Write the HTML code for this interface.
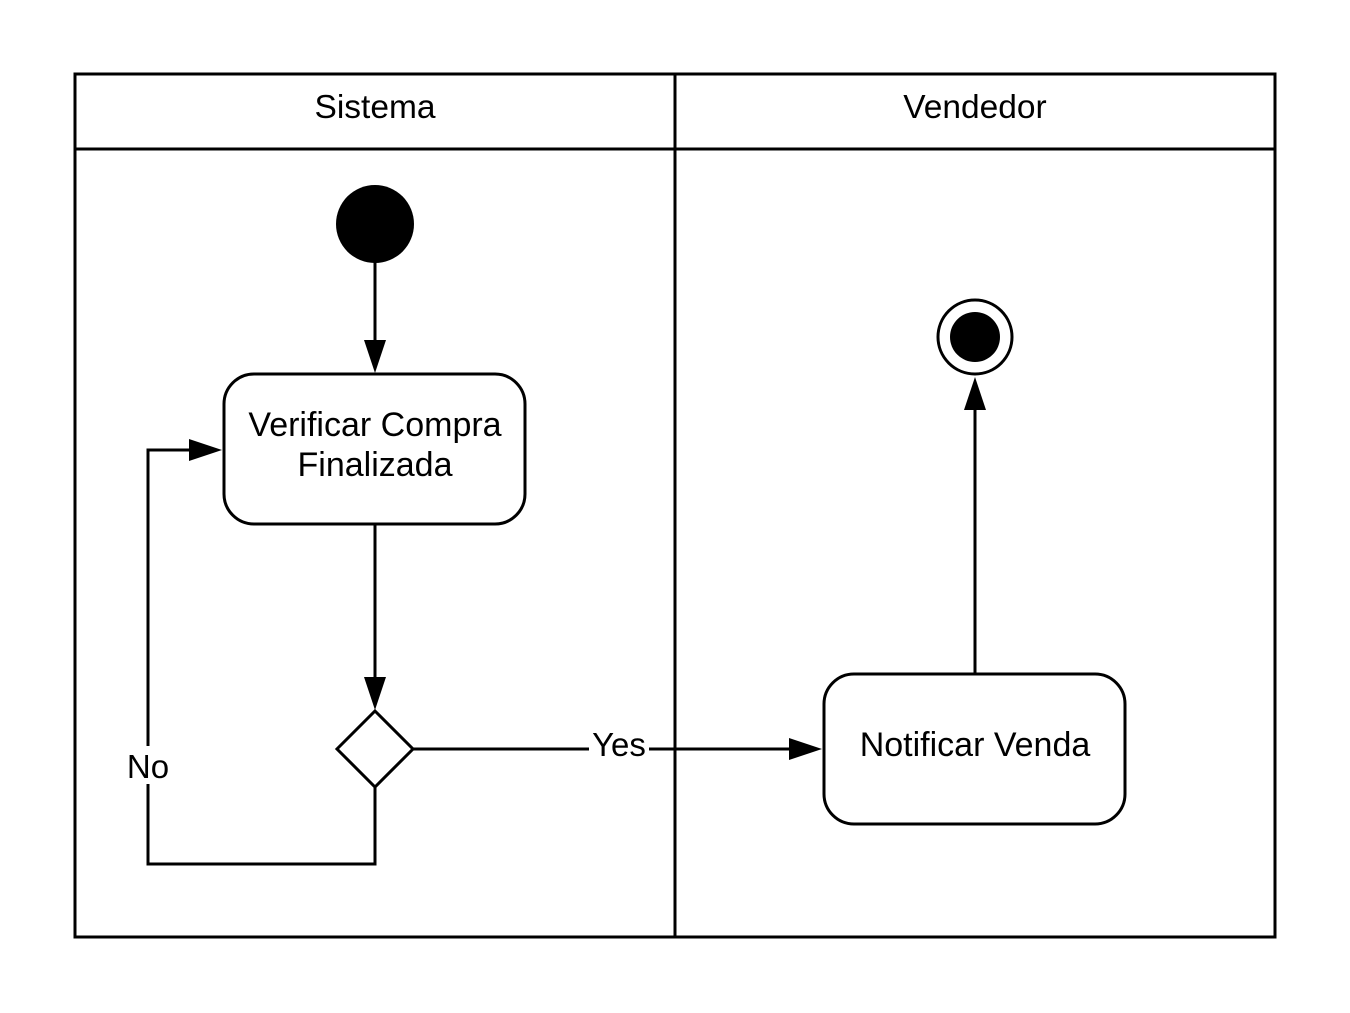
<!DOCTYPE html>
<html><head><meta charset="utf-8"><style>html,body{margin:0;padding:0;background:#fff}svg{display:block}</style></head>
<body>
<svg width="1350" height="1013" viewBox="0 0 1350 1013" xmlns="http://www.w3.org/2000/svg" font-family="Liberation Sans, Arial, sans-serif">
<rect x="75" y="74" width="1200" height="863" fill="#fff" stroke="#000" stroke-width="3"/>
<line x1="75" y1="149" x2="1275" y2="149" stroke="#000" stroke-width="3"/>
<line x1="675" y1="74" x2="675" y2="937" stroke="#000" stroke-width="3"/>
<text x="375" y="118" font-size="33.5" text-anchor="middle">Sistema</text>
<text x="975" y="118" font-size="33.5" text-anchor="middle">Vendedor</text>
<g stroke="#000" stroke-width="3" fill="none">
<line x1="375" y1="262" x2="375" y2="345"/>
<line x1="375" y1="524" x2="375" y2="680"/>
<polyline points="375,787 375,864 148,864 148,450 195,450"/>
<line x1="413" y1="749" x2="795" y2="749"/>
<line x1="975" y1="674" x2="975" y2="405"/>
<rect x="224" y="374" width="301" height="150" rx="30" fill="#fff"/>
<rect x="824" y="674" width="301" height="150" rx="30" fill="#fff"/>
<polygon points="375,711 413,749 375,787 337,749" fill="#fff"/>
<circle cx="975" cy="337" r="37" fill="#fff"/>
</g>
<g fill="#000">
<polygon points="364,340 386,340 375,373"/>
<polygon points="364,677 386,677 375,710"/>
<polygon points="189,439 189,461 222,450"/>
<polygon points="789,738 789,760 822,749"/>
<polygon points="964,410 986,410 975,377"/>
<circle cx="375" cy="224" r="39"/>
<circle cx="975" cy="337" r="25"/>
</g>
<rect x="589" y="728" width="60" height="36" fill="#fff"/>
<text x="619" y="756" font-size="33" text-anchor="middle">Yes</text>
<rect x="124" y="746" width="48" height="38" fill="#fff"/>
<text x="148" y="778" font-size="33" text-anchor="middle">No</text>
<text x="375" y="436" font-size="34" text-anchor="middle">Verificar Compra</text>
<text x="375" y="476" font-size="34" text-anchor="middle">Finalizada</text>
<text x="975" y="756" font-size="34" text-anchor="middle">Notificar Venda</text>
</svg>
</body></html>
